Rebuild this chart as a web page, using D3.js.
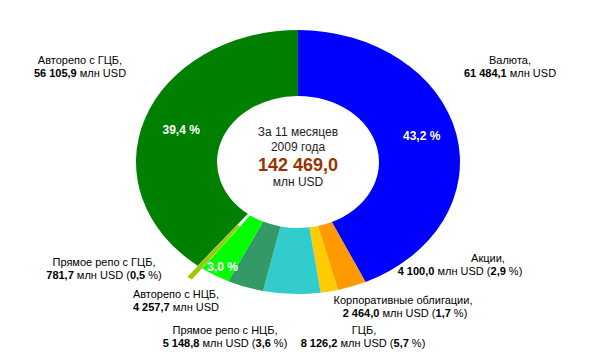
<!DOCTYPE html>
<html><head><meta charset="utf-8">
<script src="https://cdn.jsdelivr.net/npm/d3@7"></script>
<style>
html,body{margin:0;padding:0;background:#fff;}
svg{display:block;font-family:Arial,"Liberation Sans",sans-serif;}
</style></head>
<body><svg id="c" width="598" height="355"></svg>
<script>
// ---- data ----
const categories = ["Валюта","Акции","Корпоративные облигации","ГЦБ","Прямое репо с НЦБ","Авторепо с НЦБ","Прямое репо с ГЦБ","Авторепо с ГЦБ"];
const values = [61484.1, 4100.0, 2464.0, 8126.2, 5148.8, 4257.7, 781.7, 56105.9];
const colors = ["#0000FF","#FF9900","#FFCC00","#33CCCC","#339966","#00FF00","#99CC00","#008000"];
const showPctOutside = [false,true,true,true,true,false,true,false];
const showPctInside = [true,false,false,false,false,true,false,true];
const exploded = [false,false,false,false,false,false,true,false];
const totalLabel = "142 469,0";
const centerLines = ["За 11 месяцев","2009 года"];
const unitLabel = "млн USD";

// ---- layout ----
const cx = 298, cy = 162, R = 162, ry = 132, innerFrac = 0.5;
const labelPos = [ // [x of line1, x of line2, y of line1]
  [510,510,60],[488,460,258],[403,405,300],[364,363,330],[225,225,330],[176,176,294],[104,104,262],[80,80,60]
];
const insideAdj = [[5,-5],[0,0],[0,0],[0,0],[0,0],[-13,20],[0,0],[-2,0]];

const ru = d3.formatLocale({decimal:",",thousands:"\u00a0",grouping:[3],currency:["",""]});
const fmt = ru.format(",.1f");
const total = d3.sum(values);
const pct = v => ru.format(".1f")(v/total*100);

const svg = d3.select("#c");
const sy = ry/R;
const pie = d3.pie().sort(null).value(d=>d)(values);
const arc = d3.arc().innerRadius(R*innerFrac).outerRadius(R);
const g = svg.append("g").attr("transform",`translate(${cx},${cy}) scale(1,${sy})`);
const order = d3.range(values.length).sort((a,b)=>exploded[a]-exploded[b]);
order.forEach(i=>{
  const p = pie[i];
  const mid = (p.startAngle+p.endAngle)/2;
  const off = exploded[i] ? 17 : 0;
  g.append("path").attr("d",arc(p)).attr("fill",colors[i])
   .attr("transform",`translate(${off*Math.sin(mid)},${-off*Math.cos(mid)})`);
});

// inside percent labels
const mr = R*(1+innerFrac)/2;
pie.forEach((p,i)=>{
  if(!showPctInside[i]) return;
  const mid=(p.startAngle+p.endAngle)/2;
  const x = cx + mr*Math.sin(mid) + insideAdj[i][0];
  const y = cy - mr*Math.cos(mid)*sy + insideAdj[i][1];
  svg.append("text").attr("x",x).attr("y",y).attr("dy","0.35em").attr("text-anchor","middle")
    .attr("fill","#fff").attr("font-size","12px").attr("font-weight","bold")
    .text(pct(values[i])+" %");
});

// center text
const ct = svg.append("g").attr("text-anchor","middle").attr("fill","#222");
ct.append("text").attr("x",cx).attr("y",132).attr("dy","0.35em").attr("font-size","12px").text(centerLines[0]);
ct.append("text").attr("x",cx).attr("y",147).attr("dy","0.35em").attr("font-size","12px").text(centerLines[1]);
ct.append("text").attr("x",cx).attr("y",165).attr("dy","0.35em").attr("font-size","18px").attr("font-weight","bold").attr("fill","#993300").text(totalLabel);
ct.append("text").attr("x",cx).attr("y",182).attr("dy","0.35em").attr("font-size","12px").text(unitLabel);

// outside labels
categories.forEach((c,i)=>{
  const [x1,x2,y1] = labelPos[i];
  const t = svg.append("g").attr("font-size","11px").attr("fill","#000").attr("text-anchor","middle");
  t.append("text").attr("x",x1).attr("y",y1).attr("dy","0.35em").text(c+",");
  const l2 = t.append("text").attr("x",x2).attr("y",y1+13).attr("dy","0.35em");
  l2.append("tspan").attr("font-weight","bold").text(fmt(values[i]));
  l2.append("tspan").text(" "+unitLabel);
  if(showPctOutside[i]){
    l2.append("tspan").text(" (");
    l2.append("tspan").attr("font-weight","bold").text(pct(values[i]));
    l2.append("tspan").text(" %)");
  }
});
</script></body></html>
